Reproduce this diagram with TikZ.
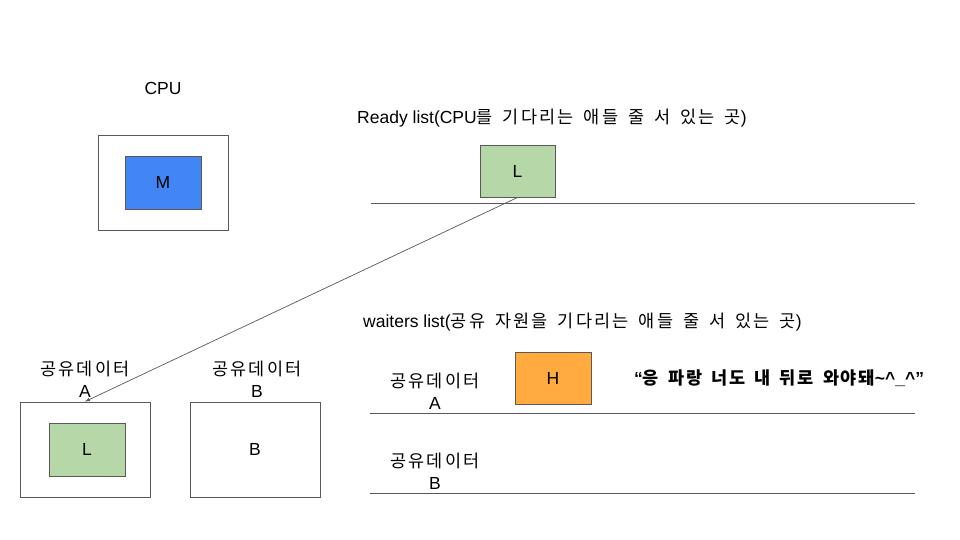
\documentclass[tikz,border=0pt]{standalone}
\usepackage{fontspec}
\setmainfont{Liberation Sans}
\newfontfamily\kr[LetterSpace=13, WordSpace=1.6]{Noto Sans CJK KR}
\newfontfamily\krb[LetterSpace=10, WordSpace=1.6]{Noto Sans CJK KR Bold}
\usepackage{tikz}
\usetikzlibrary{arrows}
\tikzset{>=latex}
\definecolor{myblue}{RGB}{66, 133, 244}
\definecolor{mygreen}{RGB}{182, 215, 168}
\definecolor{myorange}{RGB}{255, 171, 64}
\definecolor{mygray}{RGB}{89, 89, 89}
\tikzset{
  box/.style={draw=mygray, line width=0.9pt, inner sep=0pt},
  lbl/.style={font=\fontsize{17.5}{22}\selectfont, align=center, inner sep=0pt},
  listline/.style={draw=mygray, line width=0.9pt}
}

\begin{document}
\begin{tikzpicture}[x=1pt, y=-1pt]
\useasboundingbox[fill=white] (0,0) rectangle (960,540);
% CPU
\node[lbl] (cpulbl) at (163,88) {CPU};
\node[box, minimum width=130pt, minimum height=95pt] (cpu) at (163,182.5) {};
\node[box, fill=myblue, minimum width=76pt, minimum height=53pt, font=\fontsize{17.5}{20}\selectfont] (m) at (163,182.5) {M};
% ready list
\node[lbl, anchor=west] (readylbl) at (357,118) {Ready list(CPU{\kr 를 기다리는 애들 줄 서 있는 곳})};
\node[box, fill=mygreen, minimum width=75pt, minimum height=52pt, font=\fontsize{17.5}{20}\selectfont] (readyL) at (517.5,171) {L};
\draw[listline] (371,203) -- (915,203);
% shared data boxes
\node[lbl] (datAlbl) at (85,379) {{\kr 공유데이터}\\A};
\node[box, minimum width=130pt, minimum height=95pt] (datA) at (85,449.5) {};
\node[box, fill=mygreen, minimum width=76pt, minimum height=53pt, font=\fontsize{17.5}{20}\selectfont] (lockL) at (87,449.5) {L};
\node[lbl] (datBlbl) at (257,379) {{\kr 공유데이터}\\B};
\node[box, minimum width=130pt, minimum height=95pt, font=\fontsize{17.5}{20}\selectfont] (datB) at (255,449.5) {B};
\draw[->, mygray, line width=0.7pt] (readyL.south) -- (datA.north);
% waiters list
\node[lbl, anchor=west] (waitlbl) at (363,322) {waiters list({\kr 공유 자원을 기다리는 애들 줄 서 있는 곳})};
\node[lbl] (waitA) at (435,391) {{\kr 공유데이터}\\A};
\node[box, fill=myorange, minimum width=76pt, minimum height=52pt, font=\fontsize{17.5}{20}\selectfont] (waitH) at (553,378) {H};
\node[lbl, anchor=west, font=\fontsize{17.5}{20}\bfseries] (quote) at (634,378) {“{\krb 응 파랑 너도 내 뒤로 와야돼}\textasciitilde\textasciicircum\_\textasciicircum”};
\draw[listline] (370,413) -- (915,413);
\node[lbl] (waitB) at (435,471) {{\kr 공유데이터}\\B};
\draw[listline] (370,493) -- (915,493);
\end{tikzpicture}
\end{document}
